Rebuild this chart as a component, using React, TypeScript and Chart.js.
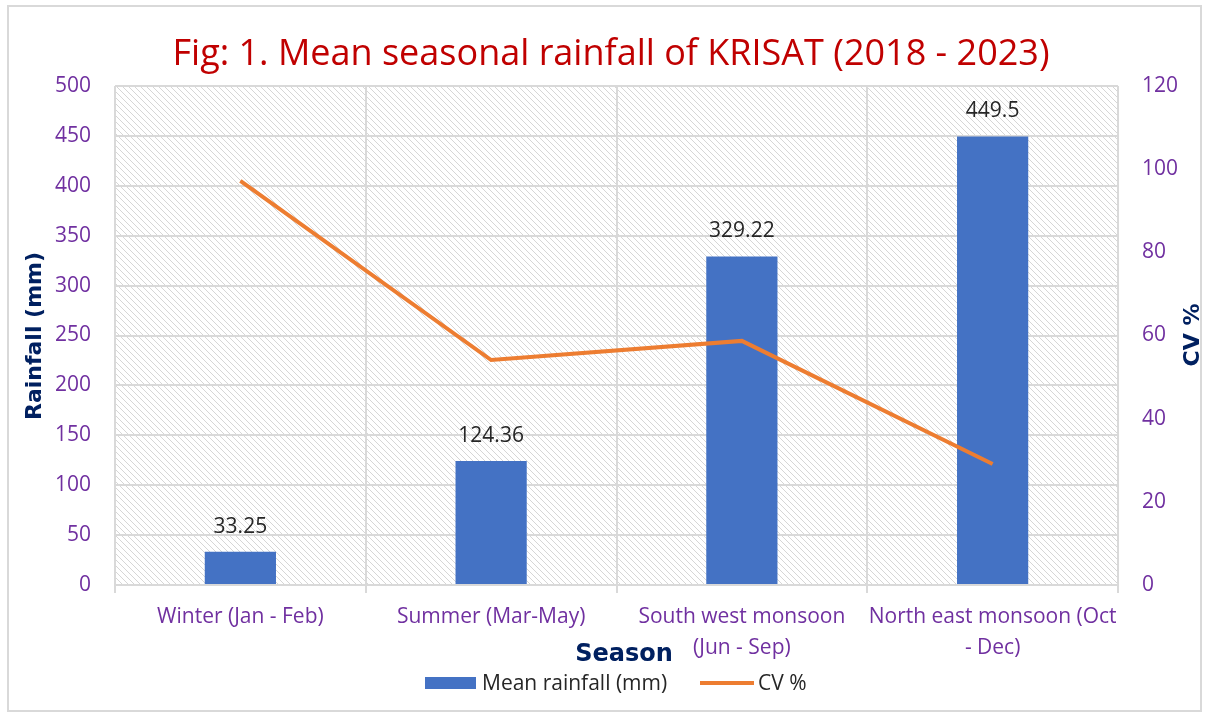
import React, { useEffect, useRef } from "react";
import { Chart, registerables } from "chart.js";

Chart.register(...registerables);

const categories: (string | string[])[] = [
  "Winter (Jan - Feb)",
  "Summer (Mar-May)",
  ["South west monsoon", "(Jun - Sep)"],
  ["North east monsoon (Oct", "- Dec)"],
];
const meanRainfall = [33.25, 124.36, 329.22, 449.5];
const cvPercent = [97.2, 54.1, 58.7, 29.1];
const titleText = "Fig: 1. Mean seasonal rainfall of KRISAT (2018 - 2023)";
const seriesNames = ["Mean rainfall (mm)", "CV %"];
const leftAxisTitle = "Rainfall (mm)";
const rightAxisTitle = "CV %";
const bottomAxisTitle = "Season";

const W = 1209;
const H = 717;
const BAR = "#4472C4";
const LINE = "#ED7D31";
const TICK = "#7030A0";
const NAVY = "#002060";
const GRID = "#d9d9d9";
const SANS = "'Open Sans', sans-serif";
const BOLD = "bold 22px 'DejaVu Sans', sans-serif";

function makeHatch(ctx: CanvasRenderingContext2D) {
  const s = 6;
  const c = document.createElement("canvas");
  c.width = s;
  c.height = s;
  const g = c.getContext("2d")!;
  g.fillStyle = "#ffffff";
  g.fillRect(0, 0, s, s);
  g.strokeStyle = "#d6d6d6";
  g.lineWidth = 1;
  g.beginPath();
  g.moveTo(-1, -1);
  g.lineTo(s + 1, s + 1);
  g.moveTo(-1, s - 1);
  g.lineTo(1, s + 1);
  g.moveTo(s - 1, -1);
  g.lineTo(s + 1, 1);
  g.stroke();
  return ctx.createPattern(c, "repeat")!;
}

const decorPlugin = {
  id: "decor",
  beforeDraw(chart: any) {
    const { ctx, chartArea } = chart;
    ctx.save();
    ctx.fillStyle = "#ffffff";
    ctx.fillRect(0, 0, W, H);
    ctx.strokeStyle = GRID;
    ctx.lineWidth = 2;
    ctx.strokeRect(8, 6, 1193, 705);
    ctx.fillStyle = makeHatch(ctx);
    ctx.fillRect(chartArea.left, chartArea.top, chartArea.right - chartArea.left, chartArea.bottom - chartArea.top);
    ctx.restore();
  },
  afterDraw(chart: any) {
    const { ctx } = chart;
    ctx.save();
    // title
    ctx.fillStyle = "#C00000";
    ctx.font = `36px ${SANS}`;
    ctx.textAlign = "center";
    ctx.textBaseline = "middle";
    ctx.fillText(titleText, 611, 55);

    // data labels
    const meta = chart.getDatasetMeta(1);
    ctx.fillStyle = "#262626";
    ctx.font = `21px ${SANS}`;
    ctx.textBaseline = "middle";
    meta.data.forEach((bar: any, i: number) => {
      ctx.fillText(String(meanRainfall[i]), bar.x, bar.y - 25);
    });

    // axis titles
    ctx.fillStyle = NAVY;
    ctx.font = BOLD;
    ctx.save();
    ctx.translate(35, 336);
    ctx.rotate(-Math.PI / 2);
    ctx.fillText(leftAxisTitle, 0, 0);
    ctx.restore();
    ctx.save();
    ctx.translate(1193, 335);
    ctx.rotate(-Math.PI / 2);
    ctx.fillText(rightAxisTitle, 0, 0);
    ctx.restore();
    ctx.font = "bold 24px 'DejaVu Sans', sans-serif";
    ctx.fillText(bottomAxisTitle, 624, 655);

    // legend
    ctx.fillStyle = BAR;
    ctx.fillRect(425, 677, 51, 12);
    ctx.strokeStyle = LINE;
    ctx.lineWidth = 4;
    ctx.beginPath();
    ctx.moveTo(700, 683);
    ctx.lineTo(754, 683);
    ctx.stroke();
    ctx.fillStyle = "#262626";
    ctx.font = `21px ${SANS}`;
    ctx.textAlign = "left";
    ctx.fillText(seriesNames[0], 482, 684);
    ctx.fillText(seriesNames[1], 758, 684);
    ctx.restore();
  },
};

export default function App() {
  const ref = useRef<HTMLCanvasElement>(null);
  useEffect(() => {
    const chart = new Chart(ref.current!, {
      type: "bar",
      data: {
        labels: categories as any,
        datasets: [
          {
            type: "line",
            label: seriesNames[1],
            data: cvPercent,
            yAxisID: "y1",
            borderColor: LINE,
            backgroundColor: LINE,
            borderWidth: 4,
            pointRadius: 0,
            tension: 0,
            order: 1,
          } as any,
          {
            type: "bar",
            label: seriesNames[0],
            data: meanRainfall,
            yAxisID: "y",
            backgroundColor: BAR,
            categoryPercentage: 1,
            barPercentage: 0.284,
            order: 2,
          },
        ],
      },
      plugins: [decorPlugin],
      options: {
        responsive: false,
        animation: false,
        events: [],
        layout: { padding: { top: 86, left: 0, right: 0, bottom: 0 } },
        plugins: { legend: { display: false }, title: { display: false }, tooltip: { enabled: false } },
        scales: {
          x: {
            offset: true,
            grid: { offset: true, color: GRID, lineWidth: 2, tickLength: 8, drawTicks: true },
            border: { color: GRID, width: 2 },
            ticks: { color: TICK, font: { family: "'Open Sans', sans-serif", size: 21, lineHeight: 1.5 }, padding: 8, maxRotation: 0, autoSkip: false },
            afterFit: (s: any) => { s.height = 132; },
          },
          y: {
            position: "left",
            min: 0,
            max: 500,
            ticks: { stepSize: 50, color: TICK, font: { family: "'Open Sans', sans-serif", size: 21 }, padding: 24 },
            grid: { color: GRID, lineWidth: 2, drawTicks: false },
            border: { display: false },
            afterFit: (s: any) => { s.width = 115; },
          },
          y1: {
            position: "right",
            min: 0,
            max: 120,
            ticks: { stepSize: 20, color: TICK, font: { family: "'Open Sans', sans-serif", size: 21 }, padding: 24 },
            grid: { display: false, drawTicks: false },
            border: { display: false },
            afterFit: (s: any) => { s.width = 91; },
          },
        },
      },
    });
    return () => chart.destroy();
  }, []);
  return (
    <div style={{ position: "fixed", left: 0, top: 0, width: W, height: H, background: "#fff" }}>
      <canvas ref={ref} width={W} height={H} style={{ width: W, height: H, display: "block" }} />
    </div>
  );
}
